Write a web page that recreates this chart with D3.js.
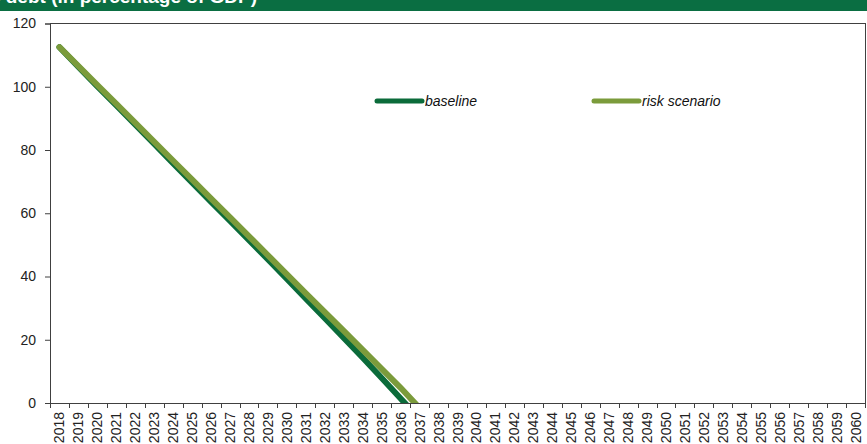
<!DOCTYPE html>
<html>
<head>
<meta charset="utf-8">
<script src="https://cdn.jsdelivr.net/npm/d3@7"></script>
<style>
  body { margin: 0; background: #fff; }
  svg { display: block; font-family: "Liberation Sans", Arial, sans-serif; }
</style>
</head>
<body>
<div id="chart"></div>
<script>
// years on the category axis
var years = d3.range(2018, 2061);

// values (the last point of each series dips below 0 and is clipped at the axis)
var baseline = [112.5, 106.3, 100.1, 94.1, 88.0, 81.9, 75.8, 69.7, 63.6, 57.6,
    51.5, 45.4, 39.2, 33.0, 26.8, 20.6, 14.3, 7.9, 1.4, -5.0];
var riskScenario = [112.5, 106.5, 100.5, 94.6, 88.6, 82.6, 76.6, 70.6, 64.6, 58.7,
    52.7, 46.7, 40.7, 34.7, 28.7, 22.8, 16.8, 10.8, 4.8, -1.6];
var yTicks = [0, 20, 40, 60, 80, 100, 120];

var W = 867, H = 444;
var margin = { top: 23.5, right: 2, bottom: 41, left: 50 };

var svg = d3.select("#chart").append("svg")
    .attr("width", W)
    .attr("height", H);

// green header bar, title mostly cropped off
svg.append("rect")
    .attr("x", 0).attr("y", 0)
    .attr("width", W).attr("height", 11)
    .attr("fill", "#0a6e42");
svg.append("text")
    .attr("x", 257).attr("y", 3)
    .attr("text-anchor", "end")
    .attr("fill", "#fff")
    .attr("font-weight", "bold")
    .attr("font-size", "19px")
    .text("Public debt (in percentage of GDP)");

var x = d3.scaleBand()
    .domain(years)
    .range([margin.left, W - margin.right])
    .padding(0);

var y = d3.scaleLinear()
    .domain([0, 120])
    .range([H - margin.bottom, margin.top]);

var axisColor = "#404040";

// clip the series to the plot area
svg.append("clipPath")
    .attr("id", "plotclip")
    .append("rect")
    .attr("x", margin.left)
    .attr("y", 0)
    .attr("width", W - margin.left - margin.right)
    .attr("height", y(0));

// plot border (top + right)
svg.append("path")
    .attr("d", "M" + margin.left + "," + y(120) + "H" + (W - margin.right) + "V" + y(0))
    .attr("fill", "none")
    .attr("stroke", axisColor)
    .attr("stroke-width", 1)
    .attr("shape-rendering", "crispEdges");

// Y axis
var yAxis = svg.append("g")
    .attr("transform", "translate(" + margin.left + ",0)")
    .call(d3.axisLeft(y).tickValues(yTicks).tickSize(5).tickPadding(9));
yAxis.select(".domain").attr("stroke", axisColor);
yAxis.selectAll(".tick line").attr("stroke", axisColor);
yAxis.selectAll("text")
    .attr("font-size", "14px")
    .attr("font-family", "Liberation Sans, Arial, sans-serif")
    .attr("fill", "#222");

// lines
var line = d3.line()
    .x(function(d, i) { return x(years[i]) + x.bandwidth() / 2; })
    .y(function(d) { return y(d); });

var series = svg.append("g").attr("clip-path", "url(#plotclip)");

series.append("path")
    .datum(baseline)
    .attr("d", line)
    .attr("fill", "none")
    .attr("stroke", "#0b6b3a")
    .attr("stroke-width", 6)
    .attr("stroke-linecap", "round");

series.append("path")
    .datum(riskScenario)
    .attr("d", line)
    .attr("fill", "none")
    .attr("stroke", "#7b9b3b")
    .attr("stroke-width", 6)
    .attr("stroke-linecap", "round");

// X axis - ticks between categories, labels rotated
var xAxis = svg.append("g")
    .attr("transform", "translate(0," + y(0) + ")");
xAxis.append("line")
    .attr("x1", margin.left - 5).attr("x2", W - margin.right)
    .attr("stroke", axisColor)
    .attr("shape-rendering", "crispEdges");
var bounds = years.map(function(d) { return x(d); }).concat([x(years[years.length - 1]) + x.bandwidth()]);
xAxis.selectAll(".xt")
    .data(bounds)
    .enter().append("line")
    .attr("x1", function(d) { return Math.round(d) + 0.5; })
    .attr("x2", function(d) { return Math.round(d) + 0.5; })
    .attr("y1", 0).attr("y2", 5)
    .attr("stroke", axisColor);
xAxis.selectAll(".xl")
    .data(years)
    .enter().append("text")
    .attr("transform", function(d) {
        return "translate(" + (x(d) + x.bandwidth() / 2 + 5) + ",9) rotate(-90)";
    })
    .attr("text-anchor", "end")
    .attr("font-size", "14px")
    .attr("fill", "#222")
    .text(function(d) { return d; });

// legend
var legend = [
    { name: "baseline", color: "#0b6b3a", x: 377 },
    { name: "risk scenario", color: "#7b9b3b", x: 594 }
];
var lg = svg.selectAll(".lg")
    .data(legend)
    .enter().append("g")
    .attr("transform", function(d) { return "translate(" + d.x + ",101)"; });
lg.append("line")
    .attr("x1", 0).attr("x2", 45)
    .attr("stroke", function(d) { return d.color; })
    .attr("stroke-width", 5)
    .attr("stroke-linecap", "round");
lg.append("text")
    .attr("x", 48).attr("y", 5)
    .attr("font-size", "14px")
    .attr("font-style", "italic")
    .attr("fill", "#111")
    .text(function(d) { return d.name; });
</script>
</body>
</html>
